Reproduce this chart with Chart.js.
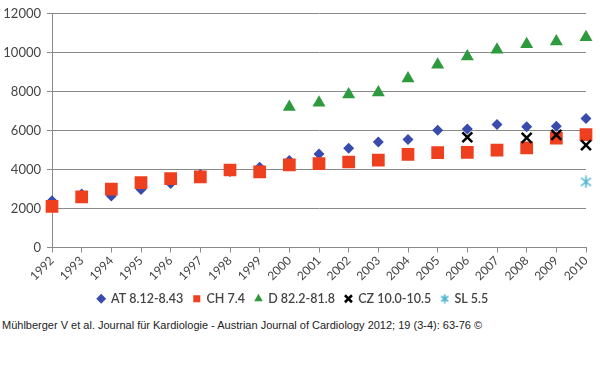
<!DOCTYPE html>
<html>
<head>
<meta charset="utf-8">
<script src="https://cdn.jsdelivr.net/npm/chart.js@4/dist/chart.umd.min.js"></script>
<style>
  html, body { margin: 0; padding: 0; background: #fff; }
  #wrap { position: relative; width: 600px; height: 315px; }
  #cite { position: absolute; left: 2px; top: 319px; font-family: "Liberation Sans", Arial, sans-serif; font-size: 11px; color: #222; white-space: nowrap; transform-origin: left top; }
</style>
</head>
<body>
<div id="wrap"><canvas id="c" width="600" height="315"></canvas></div>
<div id="cite">Mühlberger V et al. Journal für Kardiologie - Austrian Journal of Cardiology 2012; 19 (3-4): 63-76 ©</div>
<script>
const years = ['1992','1993','1994','1995','1996','1997','1998','1999','2000','2001','2002','2003','2004','2005','2006','2007','2008','2009','2010'];
const seriesNames = ['AT 8.12-8.43', 'CH 7.4', 'D 82.2-81.8', 'CZ 10.0-10.5', 'SL 5.5'];
const atValues = [2400, 2750, 2650, 2980, 3280, 3750, 3900, 4120, 4470, 4800, 5100, 5420, 5540, 6020, 6080, 6310, 6200, 6230, 6620];
const chValues = [2110, 2600, 3000, 3330, 3540, 3630, 3980, 3880, 4240, 4310, 4390, 4490, 4780, 4870, 4880, 5000, 5120, 5620, 5800];
const dValues  = [null, null, null, null, null, null, null, null, 7220, 7430, 7850, 7960, 8680, 9380, 9810, 10150, 10440, 10580, 10790];
const czValues = [null, null, null, null, null, null, null, null, null, null, null, null, null, null, 5660, null, 5630, 5780, 5260];
const slValues = [null, null, null, null, null, null, null, null, null, null, null, null, null, null, null, null, null, null, 3370];
const yTicks = [0, 2000, 4000, 6000, 8000, 10000, 12000];

function starImg(size, color) {
  const cv = document.createElement('canvas');
  cv.width = size; cv.height = size;
  const g = cv.getContext('2d');
  g.strokeStyle = color; g.lineWidth = 1.6;
  const m = 1.5, s = size - 1.5;
  g.beginPath();
  g.moveTo(m, m + 1); g.lineTo(s, s - 1);
  g.moveTo(s, m + 1); g.lineTo(m, s - 1);
  g.moveTo(size / 2, 0.5); g.lineTo(size / 2, size - 0.5);
  g.stroke();
  return cv;
}
const starPoint = starImg(13, '#4BB3CC');
const starLegend = starImg(10, '#4BB3CC');

const chart = new Chart(document.getElementById('c'), {
  type: 'line',
  data: {
    labels: years,
    datasets: [
      { label: seriesNames[0], data: atValues, showLine: false, pointStyle: 'rectRot', pointRadius: 5.5, pointBackgroundColor: '#3A4BAE', pointBorderColor: '#3A4BAE', backgroundColor: '#3A4BAE', borderColor: '#3A4BAE', pointBorderWidth: 0, order: 5 },
      { label: seriesNames[1], data: chValues, showLine: false, pointStyle: 'rect', pointRadius: 9, pointBackgroundColor: '#EE3F1F', pointBorderColor: '#EE3F1F', backgroundColor: '#EE3F1F', borderColor: '#EE3F1F', pointBorderWidth: 0, order: 4 },
      { label: seriesNames[2], data: dValues, showLine: false, pointStyle: 'triangle', pointRadius: 7.5, pointBackgroundColor: '#2E9A3E', pointBorderColor: '#2E9A3E', backgroundColor: '#2E9A3E', borderColor: '#2E9A3E', pointBorderWidth: 0, order: 3 },
      { label: seriesNames[3], data: czValues, showLine: false, pointStyle: 'crossRot', pointRadius: 7, pointBorderColor: '#000', borderColor: '#000', backgroundColor: '#000', pointBorderWidth: 2.5, order: 2 },
      { label: seriesNames[4], data: slValues, showLine: false, pointStyle: starPoint, pointRadius: 7, pointBorderColor: '#4BB3CC', borderColor: '#4BB3CC', backgroundColor: '#4BB3CC', order: 1 }
    ]
  },
  options: {
    responsive: false,
    animation: false,
    events: [],
    layout: { padding: { top: 3, right: 14, left: 0, bottom: 0 } },
    plugins: {
      tooltip: { enabled: false },
      legend: {
        position: 'bottom',
        labels: {
          usePointStyle: true,
          boxHeight: 7,
          boxWidth: 7,
          padding: 10,
          color: '#444',
          font: { family: 'Lato', size: 12.5, weight: '600' },
          sort: (a, b) => a.datasetIndex - b.datasetIndex,
          generateLabels: (ch) => {
            const base = Chart.defaults.plugins.legend.labels.generateLabels(ch);
            base.forEach(l => {
              if (l.datasetIndex === 4) l.pointStyle = starLegend;
              if (l.datasetIndex === 3) { l.lineWidth = 2.5; }
              else l.lineWidth = 0;
            });
            return base;
          }
        }
      }
    },
    scales: {
      x: {
        type: 'category',
        offset: false,
        grid: { drawOnChartArea: false, drawTicks: true, tickLength: 5, color: '#8a8a8a' },
        border: { color: '#8a8a8a', width: 1 },
        ticks: { maxRotation: 45, minRotation: 45, autoSkip: false, color: '#444', font: { family: 'Lato', size: 12 }, padding: 1 },
        afterFit: (s) => { s.height = 35; }
      },
      y: {
        min: 0, max: 12000,
        afterBuildTicks: (s) => { s.ticks = yTicks.map(v => ({ value: v })); },
        grid: { color: '#8a8a8a', tickLength: 5, lineWidth: 1 },
        border: { color: '#8a8a8a', width: 1 },
        ticks: { color: '#444', font: { family: 'Lato', size: 13 }, padding: 6, callback: (v) => String(v) },
        afterFit: (s) => { s.width = 52; }
      }
    }
  }
});
</script>
</body>
</html>
